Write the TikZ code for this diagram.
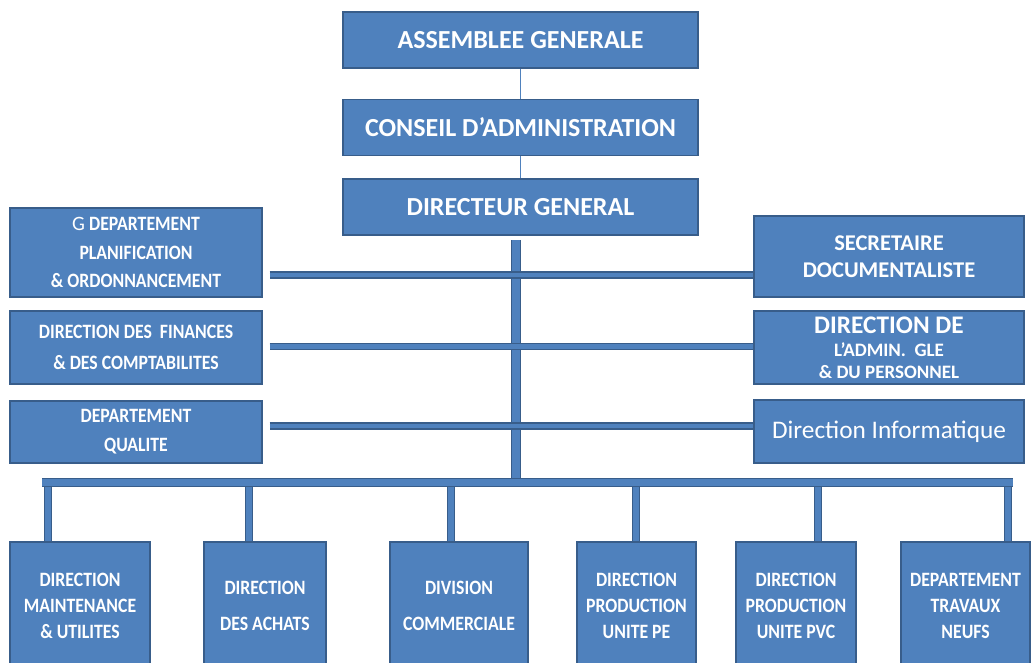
\documentclass[tikz,border=0pt]{standalone}
\usepackage{fontspec}
\setmainfont{Carlito}
\newfontfamily\condfont[FakeStretch=0.87]{Carlito}
\usetikzlibrary{positioning}
\definecolor{boxblue}{HTML}{4F81BD}
\definecolor{edgeblue}{HTML}{385D8A}
\tikzset{
 unit/.style={draw=edgeblue, line width=1pt, fill=boxblue, text=white, align=center, inner sep=0pt},
 topunit/.style={unit, minimum width=8.875cm, minimum height=1.4cm, font=\bfseries\fontsize{18.5}{20}\selectfont},
 sideunit/.style={unit, font=\condfont\bfseries\fontsize{14.5}{20.5}\selectfont},
 lowunit/.style={unit, minimum height=3.2cm, font=\condfont\bfseries\fontsize{14.5}{18.5}\selectfont},
 conn/.style={draw=edgeblue, line width=0.8pt, double=boxblue, double distance=#1},
 thin/.style={draw=boxblue, line width=1pt}
}
\begin{document}
\begin{tikzpicture}[x=0.025cm, y=-0.025cm]
 \useasboundingbox (0,0) rectangle (1032,663);
 \clip (0,0) rectangle (1032,663);

 %Top chain
 \node (ag) [topunit] at (520.5,40) {ASSEMBLEE GENERALE};
 \node (ca) [topunit, below=0.75cm of ag] {CONSEIL D’ADMINISTRATION};
 \node (dg) [topunit, below=0.55cm of ca] {DIRECTEUR GENERAL};
 \draw[thin] (ag.south) -- (ca.north);
 \draw[thin] (ca.south) -- (dg.north);

 %Left side
 \node (dpo) [sideunit, minimum width=6.3cm, minimum height=2.225cm] at (136,252.5)
   {{\normalfont\fontsize{14.5}{20}\selectfont G} DEPARTEMENT\\PLANIFICATION\\\& ORDONNANCEMENT};
 \node (dfc) [sideunit, minimum width=6.3cm, minimum height=1.825cm] at (136,347.5)
   {DIRECTION DES\ \ FINANCES\\[1.5pt]\& DES COMPTABILITES};
 \node (dq) [sideunit, minimum width=6.3cm, minimum height=1.55cm] at (136,432)
   {DEPARTEMENT\\QUALITE};

 %Right side
 \node (sd) [unit, minimum width=6.75cm, minimum height=2.025cm, font=\bfseries\fontsize{16}{19.5}\selectfont] at (889,256.5)
   {SECRETAIRE\\DOCUMENTALISTE};
 \node (dap) [unit, minimum width=6.75cm, minimum height=1.825cm, font=\bfseries\fontsize{13.5}{15.5}\selectfont] at (889,347.5)
   {{\fontsize{18}{19}\selectfont DIRECTION DE}\\[1pt]L’ADMIN.\ \ GLE\\\& DU PERSONNEL};
 \node (di) [unit, minimum width=6.75cm, minimum height=1.575cm, font=\fontsize{18}{20}\selectfont] at (889,431.5)
   {Direction Informatique};

 %Bottom row
 \node (dmu) [lowunit, minimum width=3.5cm] at (80,606) {DIRECTION\\MAINTENANCE\\\& UTILITES};
 \node (dda) [lowunit, minimum width=3.05cm] at (265,606) {DIRECTION\\[7pt]DES ACHATS};
 \node (dco) [lowunit, minimum width=3.45cm] at (459,606) {DIVISION\\[7pt]COMMERCIALE};
 \node (dpe) [lowunit, minimum width=2.975cm] at (636.5,606) {DIRECTION\\PRODUCTION\\UNITE PE};
 \node (dpv) [lowunit, minimum width=3cm] at (796,606) {DIRECTION\\PRODUCTION\\UNITE PVC};
 \node (dtn) [lowunit, minimum width=3.225cm] at (965.5,606) {DEPARTEMENT\\TRAVAUX\\NEUFS};

 %Links
 \coordinate (trunk) at (516,240);
 \coordinate (busL) at (42,482.5);
 \coordinate (busR) at (1013,482.5);
 \foreach \n/\x in {dmu/48,dda/249,dco/451,dpe/636,dpv/818,dtn/1008}
   \draw[conn=4.6pt] (\x,482.5) -- (\n.north -| \x,0);
 \draw[conn=6pt] (trunk) -- (trunk |- busL);
 \foreach \l/\r/\y in {dpo/sd/275,dfc/dap/346.5,dq/di/426}
   \draw[conn=3.4pt] ([xshift=0.175cm]\l.east |- 0,\y) -- (\r.west |- 0,\y);
 \draw[conn=4.6pt] (busL) -- (busR);

\end{tikzpicture}
\end{document}
